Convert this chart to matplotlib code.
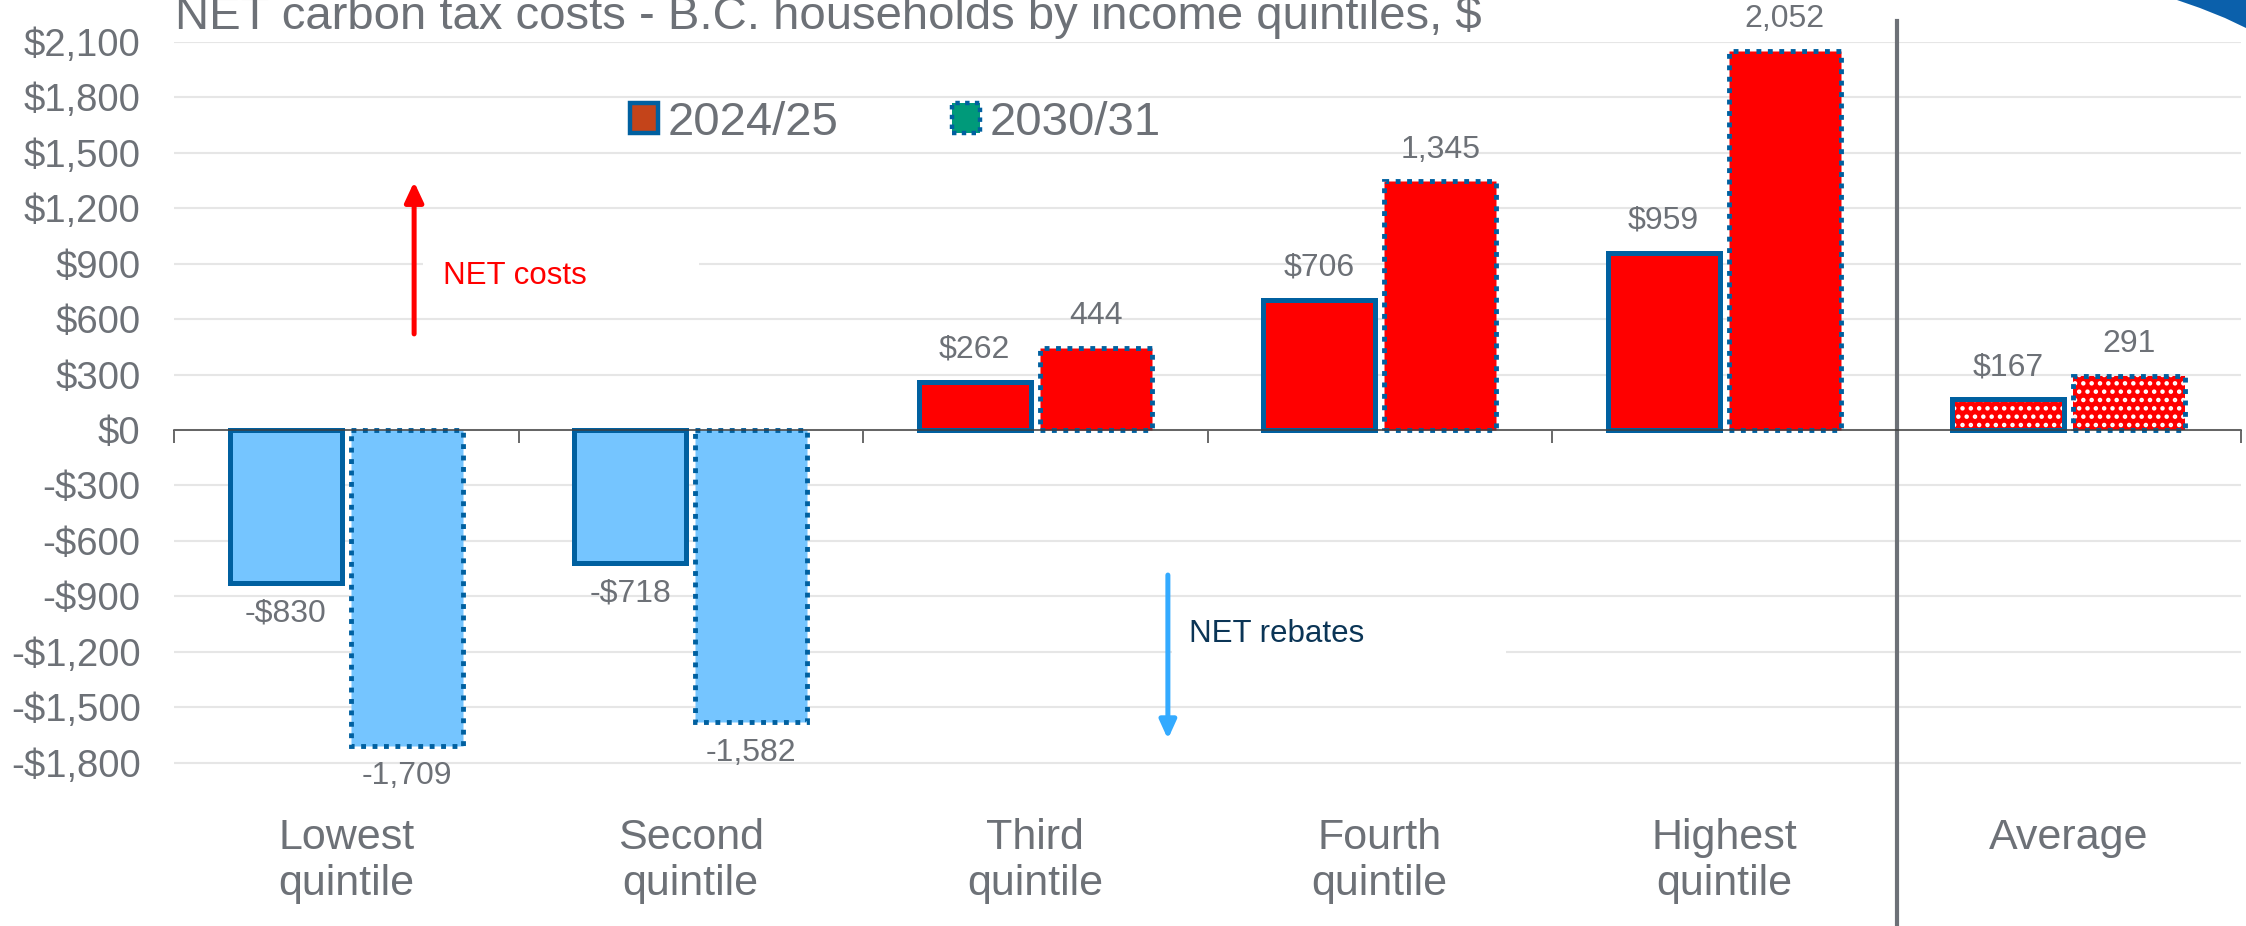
import matplotlib
matplotlib.use("Agg")
import matplotlib.pyplot as plt
import numpy as np
from matplotlib.patches import Patch, Polygon, Rectangle

plt.rcParams["font.family"] = ["Liberation Sans", "DejaVu Sans"]
plt.rcParams["hatch.linewidth"] = 2.0

# data
categories = ["Lowest\nquintile", "Second\nquintile", "Third\nquintile",
              "Fourth\nquintile", "Highest\nquintile", "Average"]
series = ["2024/25", "2030/31"]
net_2024 = [-830, -718, 262, 706, 959, 167]
net_2030 = [-1709, -1582, 444, 1345, 2052, 291]
y_ticks = list(range(-1800, 2101, 300))
title = "NET carbon tax costs - B.C. households by income quintiles, $"

GRAY_TEXT = "#6d7177"
GRAY_SEP = "#6d7177"
EDGE_BLUE = "#0060a0"
FILL_RED = "#ff0000"
FILL_BLUE = "#75c5ff"
GRID = "#e6e6e6"

W, H, DPI = 2246, 926, 100


def money(v):
    return f"-${-v:,}" if v < 0 else f"${v:,}"


fig = plt.figure(figsize=(W / DPI, H / DPI), dpi=DPI)
ax = fig.add_axes([174 / W, 1 - 818 / H, (2241 - 174) / W, (818 - 42) / H])
ax.set_xlim(-0.5, len(categories) - 0.5)
ax.set_ylim(-2100, 2100)

x = np.arange(len(categories))
width = 0.325
off = 0.176
avg_idx = categories.index("Average")
dotted = (0, (1, 1.35))

for vals, dx, style, lw in [(net_2024, -off, "-", 3.6), (net_2030, off, dotted, 3.5)]:
    for i, v in enumerate(vals):
        face = FILL_RED if v > 0 else FILL_BLUE
        if i == avg_idx:
            ax.bar(x[i] + dx, v, width, color=face, edgecolor="white",
                   linewidth=0, hatch="..", zorder=2)
            ax.bar(x[i] + dx, v, width, facecolor="none", edgecolor=EDGE_BLUE,
                   linewidth=lw, linestyle=style, zorder=2.1)
        else:
            ax.bar(x[i] + dx, v, width, facecolor=face, edgecolor=EDGE_BLUE,
                   linewidth=lw, linestyle=style, zorder=2)

# value labels
for i, v in enumerate(net_2024):
    ax.annotate(money(v), (x[i] - off, v), xytext=(0, 23 if v > 0 else -22),
                textcoords="offset points", ha="center", va="center",
                fontsize=23, color=GRAY_TEXT)
for i, v in enumerate(net_2030):
    ax.annotate(f"{v:,}", (x[i] + off, v), xytext=(0, 23 if v > 0 else -22),
                textcoords="offset points", ha="center", va="center",
                fontsize=23, color=GRAY_TEXT)

# category labels below the plot
for i, c in enumerate(categories):
    ax.text(x[i], 0.0, c, transform=ax.get_xaxis_transform(), ha="center",
            va="top", fontsize=31, color=GRAY_TEXT, linespacing=1.2)

# axes styling
ax.set_yticks(y_ticks)
ax.set_yticklabels([money(t) for t in y_ticks])
ax.yaxis.grid(True, color=GRID, linewidth=1.5)
ax.set_axisbelow(True)
ax.tick_params(axis="y", length=0, pad=24, labelsize=27.5, labelcolor=GRAY_TEXT)
ax.set_xticks(np.arange(-0.5, len(categories)))
ax.tick_params(axis="x", labelbottom=False, length=9.4, width=1.1,
               color="#404040", direction="out")
for s in ["top", "right", "left"]:
    ax.spines[s].set_visible(False)
ax.spines["bottom"].set_position(("data", 0))
ax.spines["bottom"].set_color("#404040")
ax.spines["bottom"].set_linewidth(1.1)
ax.spines["bottom"].set_zorder(3)

# separator before the average
ax.axvline(4.5, ymin=-0.139, ymax=1.027, color=GRAY_SEP, lw=3, clip_on=False)

# annotations: arrows with white boxes
ax.add_patch(Rectangle((0.223, 644), 0.8, 470, facecolor="white",
                       edgecolor="none", zorder=1))
ax.add_patch(Rectangle((2.397, -1348), 0.97, 368, facecolor="white",
                       edgecolor="none", zorder=1))
ax.annotate("", xy=(0.197, 1343), xytext=(0.197, 520),
            arrowprops=dict(arrowstyle="-|>,head_length=0.6,head_width=0.28",
                            color="#ff0000", lw=3.6, mutation_scale=20,
                            shrinkA=0, shrinkB=0), zorder=3)
ax.text(0.281, 834, "NET costs", color="#ff0000", fontsize=22.5,
        ha="left", va="center", zorder=3)
ax.annotate("", xy=(2.385, -1673), xytext=(2.385, -785),
            arrowprops=dict(arrowstyle="-|>,head_length=0.55,head_width=0.25",
                            color="#33aaff", lw=3.6, mutation_scale=20,
                            shrinkA=0, shrinkB=0), zorder=3)
ax.text(2.446, -1105, "NET rebates", color="#0b3556", fontsize=22.5,
        ha="left", va="center", zorder=3)

# legend
handles = [
    Patch(facecolor="#c4441a", edgecolor=EDGE_BLUE, linewidth=3.2),
    Patch(facecolor="#009a7a", edgecolor=EDGE_BLUE, linewidth=3.2, linestyle=(0, (1, 1.2))),
]
fig.legend(handles, series, loc="center left", bbox_to_anchor=(630 / W, 1 - 123 / H),
           ncol=2, frameon=False, fontsize=34, handlelength=0.6, handleheight=0.6,
           handletextpad=0.2, columnspacing=2.4, borderpad=0, borderaxespad=0,
           labelcolor=GRAY_TEXT)

# clipped title at the top
fig.text(175 / W, 1 - 29 / H, title, fontsize=34, color=GRAY_TEXT,
         ha="left", va="baseline")

# corner decoration
pts = [(2177, 0), (2200, 8), (2225, 18), (2246, 28), (2246, 0)]
fig.patches.append(Polygon([(px / W, 1 - py / H) for px, py in pts],
                           closed=True, facecolor="#0b60ab", edgecolor="none",
                           transform=fig.transFigure, figure=fig))

fig.savefig("out.png", dpi=DPI)
